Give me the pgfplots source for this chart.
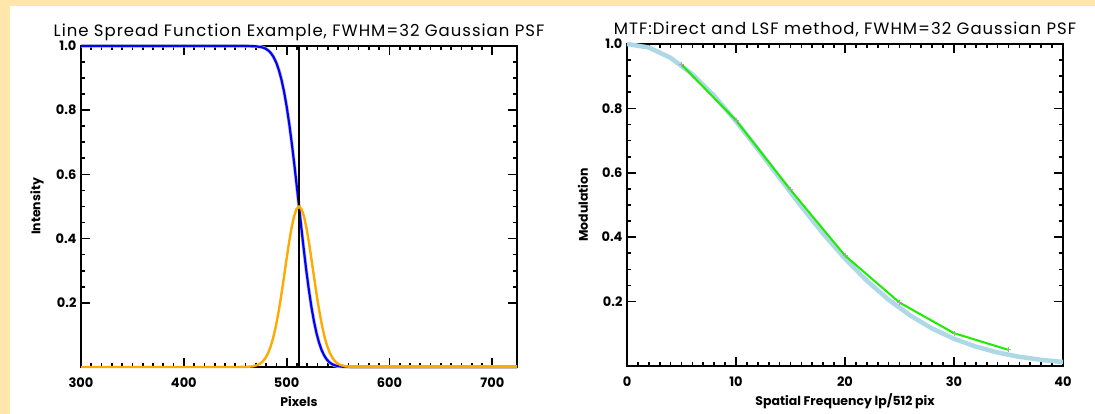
\documentclass[border=0pt]{standalone}
\usepackage{pgfplots}
\pgfplotsset{compat=1.18}
\usepackage{fontspec}
\setmainfont{Poppins}

\definecolor{cream}{RGB}{255,230,170}
\definecolor{lsfblue}{RGB}{0,0,255}
\definecolor{lsforange}{RGB}{255,170,0}
\definecolor{mtfgreen}{RGB}{30,235,0}
\definecolor{mtflight}{RGB}{173,216,230}

\pgfplotsset{
  idlstyle/.style={
    scale only axis,
    width=436pt,
    height=321pt,
    anchor=south west,
    clip=false,
    ymin=0, ymax=1,
    ytick={0.2,0.4,0.6,0.8,1.0},
    minor y tick num=3,
    minor x tick num=9,
    axis line style={line width=2.3pt},
    every tick/.style={black, line width=1.7pt},
    major tick length=9pt,
    minor tick length=4pt,
    tick align=inside,
    /pgf/number format/assume math mode=true,
    tick label style={font=\fontsize{13}{13}\selectfont\bfseries},
    xticklabel style={yshift=-7pt},
    yticklabel style={xshift=-1pt, /pgf/number format/.cd, fixed, fixed zerofill, precision=1},
    title style={font=\fontsize{16.5}{16.5}\selectfont\addfontfeature{LetterSpace=6}, at={(0.5,1)}, anchor=base, yshift=3pt},
    label style={font=\fontsize{12.5}{12.5}\selectfont\bfseries},
    xlabel style={at={(axis description cs:0.5,0)}, anchor=center, yshift=-35pt},
    ylabel style={at={(axis description cs:0,0.5)}, anchor=center, yshift=44pt},
  }
}

\begin{document}
\begin{tikzpicture}[x=1pt,y=1pt]
\fill[cream] (0,0) rectangle (1095,414);
\fill[white] (10,0) rectangle (1095,408);

% left: edge spread and line spread
\begin{axis}[idlstyle, at={(81pt,47pt)},
    xmin=300, xmax=724,
    xtick={300,400,500,600,700},
    title={Line Spread Function Example, FWHM=32 Gaussian PSF},
    xlabel={Pixels}, ylabel={Intensity}]
\addplot[gray!45, line width=3.5pt] coordinates {
 (300,1.0) (460,1.0) (470,0.9990) (475,0.9967) (477.5,0.9945) (480,0.9908)
 (482.5,0.9850) (485,0.9767) (487.5,0.9642) (490,0.9473) (492.5,0.9242)
 (495,0.8945) (497.5,0.8570) (500,0.8114) (502.5,0.7577) (505,0.6968)
 (507.5,0.6297) (510,0.5585) (512,0.5) (514,0.4415) (516.5,0.3703)
 (519,0.3032) (521.5,0.2423) (524,0.1886) (526.5,0.1430) (529,0.1055)
 (531.5,0.0758) (534,0.0527) (536.5,0.0358) (539,0.0233) (541.5,0.0150)
 (544,0.0092) (546.5,0.0055) (549,0.0033) (554,0.0010) (564,0.0) (724,0.0)};
\addplot[lsfblue, line width=2.2pt] coordinates {
 (300,1.0) (460,1.0) (470,0.9990) (475,0.9967) (477.5,0.9945) (480,0.9908)
 (482.5,0.9850) (485,0.9767) (487.5,0.9642) (490,0.9473) (492.5,0.9242)
 (495,0.8945) (497.5,0.8570) (500,0.8114) (502.5,0.7577) (505,0.6968)
 (507.5,0.6297) (510,0.5585) (512,0.5) (514,0.4415) (516.5,0.3703)
 (519,0.3032) (521.5,0.2423) (524,0.1886) (526.5,0.1430) (529,0.1055)
 (531.5,0.0758) (534,0.0527) (536.5,0.0358) (539,0.0233) (541.5,0.0150)
 (544,0.0092) (546.5,0.0055) (549,0.0033) (554,0.0010) (564,0.0) (724,0.0)};
\addplot[black, line width=2pt] coordinates {(512,0) (512,1)};
\addplot[lsforange, line width=2.4pt] coordinates {
 (300,0) (452,0) (462,0.0006) (467,0.0021) (472,0.0066) (474.5,0.0111)
 (477,0.0181) (479.5,0.0287) (482,0.0437) (484.5,0.0645) (487,0.0921)
 (489.5,0.1270) (492,0.1693) (494.5,0.2182) (497,0.2719) (499.5,0.3276)
 (502,0.3814) (504.5,0.4294) (507,0.4673) (509.5,0.4916) (512,0.5)
 (514.5,0.4916) (517,0.4673) (519.5,0.4294) (522,0.3814) (524.5,0.3276)
 (527,0.2719) (529.5,0.2182) (532,0.1693) (534.5,0.1270) (537,0.0921)
 (539.5,0.0645) (542,0.0437) (544.5,0.0287) (547,0.0181) (549.5,0.0111)
 (552,0.0066) (557,0.0021) (562,0.0006) (572,0) (724,0)};
\end{axis}

% right: MTF direct and from LSF
\begin{axis}[idlstyle, at={(627pt,48pt)}, height=322pt,
    xmin=0, xmax=40,
    xtick={0,10,20,30,40},
    title={MTF:Direct and LSF method, FWHM=32 Gaussian PSF},
    xlabel={Spatial Frequency lp/512 pix}, ylabel={Modulation}]
\addplot[mtflight, line width=4.5pt] coordinates {
 (0,1.0) (2,0.9891) (4,0.9570) (6,0.9059) (8,0.8389) (10,0.7600)
 (12,0.6736) (14,0.5840) (16,0.4954) (18,0.4110) (20,0.3337)
 (22,0.2650) (24,0.2059) (26,0.1565) (28,0.1163) (30,0.0846)
 (32,0.0602) (34,0.0419) (36,0.0286) (38,0.0190) (40,0.0124)};
\addplot[mtfgreen, line width=2pt] coordinates {
 (5,0.936) (10,0.763) (15,0.547) (20,0.343) (25,0.197) (30,0.102) (35,0.050)};
\addplot[only marks, mark=+, mark size=2.5pt, gray!70, mark options={line width=0.8pt}] coordinates {
 (5,0.936) (10,0.763) (15,0.547) (20,0.343) (25,0.197) (30,0.102) (35,0.050)};
\end{axis}
\end{tikzpicture}
\end{document}
